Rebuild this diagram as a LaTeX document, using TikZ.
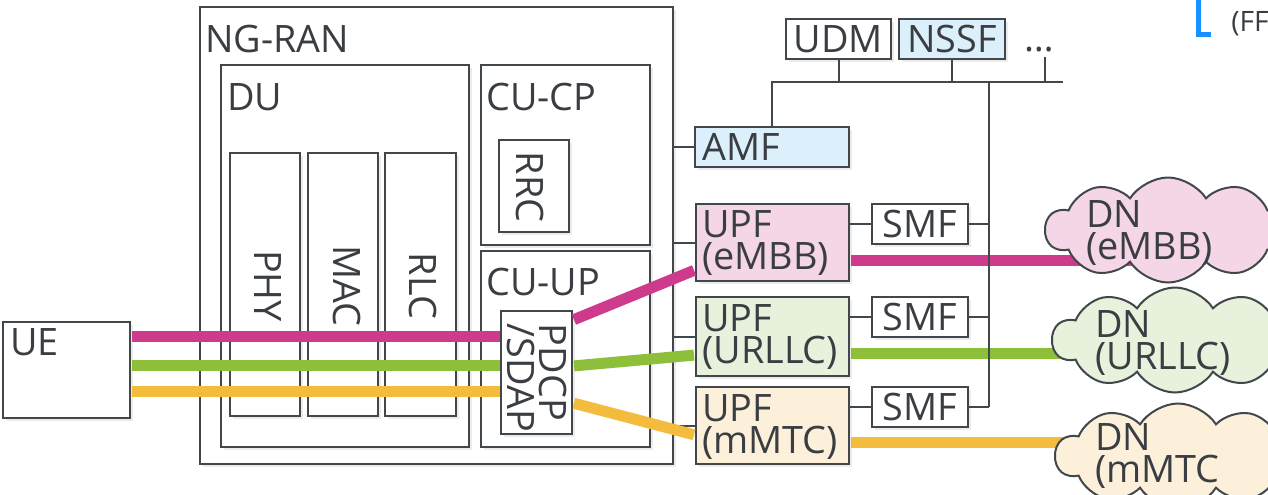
\documentclass[tikz,border=0pt]{standalone}
\usepackage{fontspec}
\setmainfont{Open Sans}
\usepackage{xcolor}
\usepackage{tikz}
\usetikzlibrary{
    positioning,
    calc,
    fit,
    shapes.symbols,
    shadows,
    backgrounds
}
\definecolor{linegray}{RGB}{66,71,75}
\definecolor{textgray}{RGB}{58,62,66}
\definecolor{embb}{RGB}{207,59,140}
\definecolor{urllc}{RGB}{141,191,59}
\definecolor{mmtc}{RGB}{244,188,60}
\definecolor{embbfill}{RGB}{245,214,231}
\definecolor{urllcfill}{RGB}{231,241,219}
\definecolor{mmtcfill}{RGB}{253,240,219}
\definecolor{nffill}{RGB}{219,240,251}
\definecolor{bracketblue}{RGB}{24,144,255}
\tikzset{
    funcbox/.style={
        draw=linegray,
        line width=0.4mm,
        fill=white,
        inner sep=0pt,
        drop shadow={shadow xshift=0.5mm, shadow yshift=-0.5mm, opacity=0.15}
    }
}
\tikzset{
    caption/.style={
        inner sep=0pt,
        anchor=north west,
        align=left,
        text=textgray
    }
}
\tikzset{
    boxname/.style={
        inner sep=0pt,
        text=textgray
    }
}
\tikzset{
    layer/.style={
        inner sep=0pt,
        rotate=-90,
        align=left,
        text=textgray
    }
}
\tikzset{
    wire/.style={
        draw=linegray,
        line width=0.4mm
    }
}
\tikzset{
    slice/.style={
        line width=2.2mm,
        shorten <=0.2mm,
        shorten >=0.2mm
    }
}
\tikzset{
    datanet/.style={
        cloud,
        cloud puffs=10,
        cloud puff arc=115,
        aspect=2.3,
        draw=linegray,
        line width=0.4mm,
        minimum width=49mm,
        minimum height=21mm
    }
}

\begin{document}
\begin{tikzpicture}[
    x=0.2mm, y=-0.2mm,
    font=\fontsize{21.5}{18.4}\selectfont
]
\useasboundingbox (0,0) rectangle (1268,494);

% =========================================================
% UE and NG-RAN
% =========================================================

\node[funcbox, fit={(3,322) (130,418)}] (ue) {};
\node[caption] (uelabel) at (10,328) {UE};

\node[funcbox, fit={(200,7) (673,464)}] (ngran) {};
\node[caption] (ngranlabel) at (205,25) {NG-RAN};

\node[funcbox, fit={(221,65) (469,447)}] (du) {};
\node[caption] (dulabel) at (227,83) {DU};

\node[funcbox, fit={(230,153) (300,416)}] (phy) {};
\node[funcbox, fit={(308,153) (378,416)}] (mac) {};
\node[funcbox, fit={(385,153) (456,416)}] (rlc) {};
\node[layer] (phylabel) at (268,286) {PHY};
\node[layer] (maclabel) at (347,286) {MAC};
\node[layer] (rlclabel) at (423,286) {RLC};

\node[funcbox, fit={(481,65) (650,245)}] (cucp) {};
\node[caption] (cucplabel) at (486,83) {CU-CP};
\node[funcbox, fit={(499,140) (569,232)}] (rrc) {};
\node[layer] (rrclabel) at (530,187) {RRC};

\node[funcbox, fit={(481,251) (650,447)}] (cuup) {};
\node[caption] (cuuplabel) at (486,268) {CU-UP};

% slices through the DU
\coordinate (lanea) at (0,336);
\coordinate (laneb) at (0,365);
\coordinate (lanec) at (0,391);
\draw[slice, embb] (ue.east |- lanea) -- (cuup.west |- lanea) -- ++(25,0);
\draw[slice, urllc] (ue.east |- laneb) -- (cuup.west |- laneb) -- ++(25,0);
\draw[slice, mmtc] (ue.east |- lanec) -- (cuup.west |- lanec) -- ++(25,0);

\node[funcbox, fit={(501,311) (572,434)}] (pdcp) {};
\node[layer] (pdcplabel) at (537,378) {PDCP\\/SDAP};

% =========================================================
% Core network
% =========================================================

\node[funcbox, fill=nffill, fit={(695,127) (849,167)}] (amf) {};
\node[caption] (amflabel) at (702,133) {AMF};

\node[funcbox, fill=embbfill, fit={(696,204) (849,281)}] (upfa) {};
\node[caption] (upfalabel) at (702,210) {UPF\\(eMBB)};
\node[funcbox, fill=urllcfill, fit={(696,297) (849,376)}] (upfb) {};
\node[caption] (upfblabel) at (702,304) {UPF\\(URLLC)};
\node[funcbox, fill=mmtcfill, fit={(696,387) (849,464)}] (upfc) {};
\node[caption] (upfclabel) at (702,394) {UPF\\(mMTC)};

\node[funcbox, fit={(872,204) (968,244)}] (smfa) {};
\node[funcbox, fit={(872,297) (968,337)}] (smfb) {};
\node[funcbox, fit={(872,387) (968,427)}] (smfc) {};
\node[boxname] (smfalabel) at (smfa.center) {SMF};
\node[boxname] (smfblabel) at (smfb.center) {SMF};
\node[boxname] (smfclabel) at (smfc.center) {SMF};

\node[funcbox, fit={(786,19) (891,59)}] (udm) {};
\node[funcbox, fill=nffill, fit={(899,19) (1005,59)}] (nssf) {};
\node[boxname] (udmlabel) at (udm.center) {UDM};
\node[boxname] (nssflabel) at (nssf.center) {NSSF};
\node[boxname, anchor=base] (more) at (1039,51) {\dots};

\draw[wire] (ngran.east |- amf.west) -- (amf.west);
\draw[wire] (ngran.east |- upfa.west) -- (upfa.west);
\draw[wire] (ngran.east |- upfb.west) -- (upfb.west);
\draw[wire] (ngran.east |- upfc.west) -- (upfc.west);

\draw[wire] (upfa.east |- smfa.west) -- (smfa.west);
\draw[wire] (upfb.east |- smfb.west) -- (smfb.west);
\draw[wire] (upfc.east |- smfc.west) -- (smfc.west);

% service bus
\coordinate (busend) at (1063,82);
\coordinate (busdrop) at (989,82);
\coordinate (morestub) at (1045,57);
\draw[wire] (amf.north) |- (busend);
\draw[wire] (udm.south) -- (udm.south |- busend);
\draw[wire] (nssf.south) -- (nssf.south |- busend);
\draw[wire] (morestub) -- (morestub |- busend);
\draw[wire] (busdrop) -- (busdrop |- smfc.east);
\draw[wire] (smfa.east) -- (smfa.east -| busdrop);
\draw[wire] (smfb.east) -- (smfb.east -| busdrop);
\draw[wire] (smfc.east) -- (smfc.east -| busdrop);

% =========================================================
% Slices to the data networks
% =========================================================

\node[datanet, fill=embbfill] (dna) at (1168,230) {};
\node[datanet, fill=urllcfill] (dnb) at (1175,340) {};
\node[datanet, fill=mmtcfill] (dnc) at (1178,456) {};

\draw[slice, embb] (pdcp.east |- 0,320) -- (upfa.west |- 0,270);
\draw[slice, urllc] (pdcp.east |- 0,366) -- (upfb.west |- 0,355);
\draw[slice, mmtc] (pdcp.east |- 0,403) -- (upfc.west |- 0,435);

\begin{scope}[on background layer]
\draw[slice, embb] (upfa.east |- 0,260) -- (dna.center |- 0,260);
\draw[slice, urllc] (upfb.east |- 0,353) -- (dnb.center |- 0,353);
\draw[slice, mmtc] (upfc.east |- 0,442) -- (dnc.center |- 0,442);
\end{scope}

\node[caption] (dnalabel) at (1086,200) {DN\\(eMBB)};
\node[caption] (dnblabel) at (1095,310) {DN\\(URLLC)};
\node[caption] (dnclabel) at (1095,423) {DN\\(mMTC};

% =========================================================
% Slide remnant, top right
% =========================================================

\coordinate (brackettop) at (1198,-5);
\draw[bracketblue, line width=1mm] (brackettop) |- (1211,34);
\node[caption, font=\fontsize{16}{18}\selectfont] (ffnote) at (1231,11) {(FF};

\end{tikzpicture}
\end{document}
